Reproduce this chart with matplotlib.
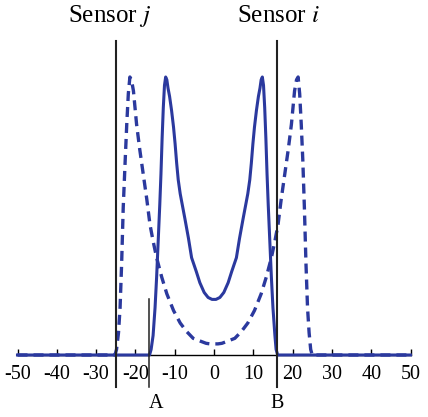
import matplotlib
matplotlib.use("Agg")
import numpy as np
from matplotlib import pyplot as plt

# solid curve (peak height = 1)
solid_x = [-50, -17.0, -16.4, -16.0, -15.5, -15.0, -14.6, -14.2, -13.8, -13.5, -13.2, -12.9, -12.6, -12.3,
           -12.0, -11.7, -11.3, -10.8, -10.3, -9.9, -9.5, -9.1, -8.6, -8.2, -7.4, -6.5, -5.7, -4.5, -3.6,
           -2.5, -1.5, -0.5, 0, 0.5, 1.5, 2.5, 3.6, 4.5, 5.7, 6.5, 7.4, 8.2, 8.6, 9.1, 9.5, 9.9, 10.3, 10.8,
           11.3, 11.7, 12.0, 12.3, 12.6, 12.9, 13.2, 13.5, 13.8, 14.2, 14.6, 15.0, 15.5, 15.8, 16.2, 16.8, 50]
solid_y = [0, 0, 0.0, 0.02, 0.07, 0.17, 0.28, 0.41, 0.54, 0.65, 0.78, 0.89, 0.97, 1.0,
           0.99, 0.96, 0.93, 0.88, 0.82, 0.76, 0.69, 0.63, 0.58, 0.55, 0.49, 0.42, 0.35, 0.30, 0.26,
           0.225, 0.207, 0.2, 0.2, 0.2, 0.207, 0.225, 0.26, 0.30, 0.35, 0.42, 0.49, 0.55, 0.58, 0.63, 0.69,
           0.76, 0.82, 0.88, 0.93, 0.96, 0.99, 1.0, 0.97, 0.89, 0.78, 0.65, 0.54, 0.41, 0.28, 0.17, 0.07,
           0.02, 0.0, 0, 0]

# dashed curve
dash_x = [-50, -25.2, -24.8, -24.3, -23.9, -23.5, -23.1, -22.6, -22.2, -21.8, -21.4, -21.0, -20.5, -19.7,
          -18.9, -18.0, -17.1, -16.3, -15.5, -14.6, -13.3, -12.0, -10.3, -8.6, -7.0, -5.3, -3.5, -2.0, -1.0,
          0, 1.0, 2.0, 3.5, 5.3, 7.0, 8.6, 10.3, 12.0, 13.3, 14.6, 15.5, 16.3, 17.1, 18.0, 18.9, 19.7, 20.5,
          21.0, 21.4, 21.8, 22.2, 22.6, 23.0, 23.4, 23.8, 24.2, 24.6, 25.0, 50]
dash_y = [0, 0, 0.02, 0.08, 0.17, 0.33, 0.53, 0.70, 0.83, 0.94, 1.0, 0.99, 0.95, 0.83,
          0.74, 0.65, 0.56, 0.47, 0.41, 0.35, 0.28, 0.22, 0.16, 0.115, 0.085, 0.06, 0.05, 0.042, 0.04,
          0.04, 0.04, 0.042, 0.05, 0.06, 0.085, 0.115, 0.16, 0.22, 0.28, 0.35, 0.41, 0.47, 0.56, 0.65, 0.74,
          0.83, 0.95, 0.99, 1.0, 0.94, 0.83, 0.70, 0.53, 0.33, 0.17, 0.08, 0.02, 0, 0]

xticks = [-50, -40, -30, -20, -10, 0, 10, 20, 30, 40, 50]
sensor_j = -25
sensor_i = 16
point_a = -16.5

blue = '#2b399e'

plt.rcParams['font.family'] = ['Liberation Serif', 'DejaVu Serif']
plt.rcParams['mathtext.fontset'] = 'stix'

fig = plt.figure(figsize=(4.28, 4.17), dpi=100)
ax = fig.add_axes([17.5 / 428, (417 - 355) / 417, 393 / 428, 355 / 417])
ax.set_xlim(-50, 50)
ax.set_ylim(0, 355 / 278)

ax.plot(solid_x, solid_y, color=blue, lw=2.2, clip_on=False, zorder=3)
ax.plot(dash_x, dash_y, color=blue, lw=2.4, dashes=(3.0, 1.8), clip_on=False, zorder=3)

# sensor and marker lines
ax.plot([sensor_j, sensor_j], [-0.115, 1.13], color='#222222', lw=1.5, clip_on=False, zorder=4)
ax.plot([sensor_i, sensor_i], [-0.115, 1.13], color='#222222', lw=1.5, clip_on=False, zorder=4)
ax.plot([point_a, point_a], [-0.115, 0.2], color='#222222', lw=1.1, clip_on=False, zorder=4)

ax.text(sensor_j - 1.5, 1.22, 'Sensor $j$', ha='center', va='center', fontsize=18)
ax.text(sensor_i + 0.5, 1.22, 'Sensor $i$', ha='center', va='center', fontsize=18)
ax.text(point_a + 1.7, -0.173, 'A', ha='center', va='center', fontsize=14.5)
ax.text(sensor_i, -0.173, 'B', ha='center', va='center', fontsize=14.5)

for s in ['top', 'right', 'left']:
    ax.spines[s].set_visible(False)
ax.spines['bottom'].set_linewidth(1.0)
ax.set_yticks([])
ax.set_xticks(xticks)
ax.set_xticklabels([str(t) for t in xticks])
ax.tick_params(axis='x', direction='in', length=4, width=1, pad=7.5, labelsize=14.5)

fig.savefig('out.png', dpi=100)
